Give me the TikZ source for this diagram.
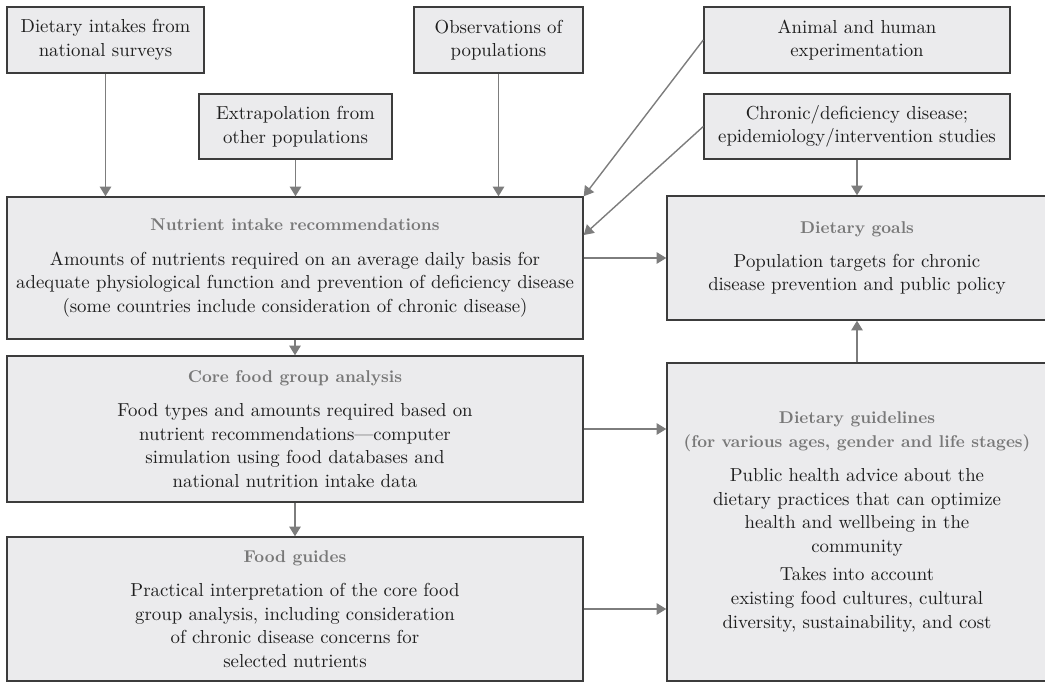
\documentclass[tikz,border=0pt]{standalone}
\usetikzlibrary{arrows.meta,calc}

\definecolor{boxfill}{RGB}{235,235,237}
\definecolor{boxline}{RGB}{60,60,60}
\definecolor{arrowgray}{RGB}{125,125,125}
\definecolor{titlegray}{RGB}{120,120,120}
\definecolor{textdark}{RGB}{30,30,30}

\begin{document}
\begin{tikzpicture}
  [box/.style={rectangle,draw=boxline,line width=0.8pt,fill=boxfill,
     text=textdark,align=center,inner sep=2pt,
     font=\fontsize{10.7pt}{13.4pt}\selectfont},
   arr/.style={draw=arrowgray,line width=0.8pt,
     -{Triangle[width=6.5pt,length=5.5pt]}}]
  \useasboundingbox (0,0) rectangle (20.9,-13.66);

  % sources
  \node[box,minimum width=3.94cm,minimum height=1.32cm] (surveys) at (2.11,-0.80)
    {Dietary intakes from\\national surveys};
  \node[box,minimum width=3.86cm,minimum height=1.30cm] (extrap) at (5.91,-2.53)
    {Extrapolation from\\other populations};
  \node[box,minimum width=3.38cm,minimum height=1.32cm] (observ) at (9.97,-0.80)
    {Observations of\\populations};
  \node[box,minimum width=6.12cm,minimum height=1.32cm] (animal) at (17.14,-0.80)
    {Animal and human\\experimentation};
  \node[box,minimum width=6.12cm,minimum height=1.30cm] (chronic) at (17.14,-2.53)
    {Chronic/deficiency disease;\\epidemiology/intervention studies};

  % main boxes
  \node[box,minimum width=11.52cm,minimum height=2.84cm] (nir) at (5.90,-5.36)
    {{\color{titlegray}\fontsize{9.7pt}{13.4pt}\selectfont\bfseries Nutrient intake recommendations}\\[6pt]
     Amounts of nutrients required on an average daily basis for\\
     adequate physiological function and prevention of deficiency disease\\
     (some countries include consideration of chronic disease)};
  \node[box,minimum width=7.60cm,minimum height=2.48cm] (goals) at (17.14,-5.16)
    {{\color{titlegray}\fontsize{9.7pt}{13.4pt}\selectfont\bfseries Dietary goals}\\[6pt]
     Population targets for chronic\\
     disease prevention and public policy};
  \node[box,minimum width=11.52cm,minimum height=2.92cm] (core) at (5.90,-8.58)
    {{\color{titlegray}\fontsize{9.7pt}{13.4pt}\selectfont\bfseries Core food group analysis}\\[6pt]
     Food types and amounts required based on\\
     nutrient recommendations---computer\\
     simulation using food databases and\\
     national nutrition intake data};
  \node[box,minimum width=11.52cm,minimum height=2.88cm] (guides) at (5.90,-12.18)
    {{\color{titlegray}\fontsize{9.7pt}{13.4pt}\selectfont\bfseries Food guides}\\[6pt]
     Practical interpretation of the core food\\
     group analysis, including consideration\\
     of chronic disease concerns for\\
     selected nutrients};
  \node[box,minimum width=7.60cm,minimum height=6.36cm] (dgl) at (17.14,-10.44)
    {{\color{titlegray}\fontsize{9.7pt}{13.4pt}\selectfont\bfseries Dietary guidelines}\\
     {\color{titlegray}\fontsize{9.7pt}{13.4pt}\selectfont\bfseries (for various ages, gender and life stages)}\\[6pt]
     Public health advice about the\\
     dietary practices that can optimize\\
     health and wellbeing in the\\
     community\\[3pt]
     Takes into account\\
     existing food cultures, cultural\\
     diversity, sustainability, and cost};

  \draw[arr] (surveys) -- (surveys |- nir.north);
  \draw[arr] (extrap) -- (extrap |- nir.north);
  \draw[arr] (observ) -- (observ |- nir.north);
  \draw[arr] (animal.west) -- (nir.north east);
  \draw[arr] (chronic.west) -- ($(nir.north east)!0.27!(nir.south east)$);
  \draw[arr] (chronic) -- (goals);
  \draw[arr] (nir.east |- goals.west) -- (goals.west);
  \draw[arr] (nir) -- (core);
  \draw[arr] (core) -- (guides);
  \draw[arr] (core.east) -- (core.east -| dgl.west);
  \draw[arr] (guides.east) -- (guides.east -| dgl.west);
  \draw[arr] (dgl) -- (goals);

\end{tikzpicture}
\end{document}
